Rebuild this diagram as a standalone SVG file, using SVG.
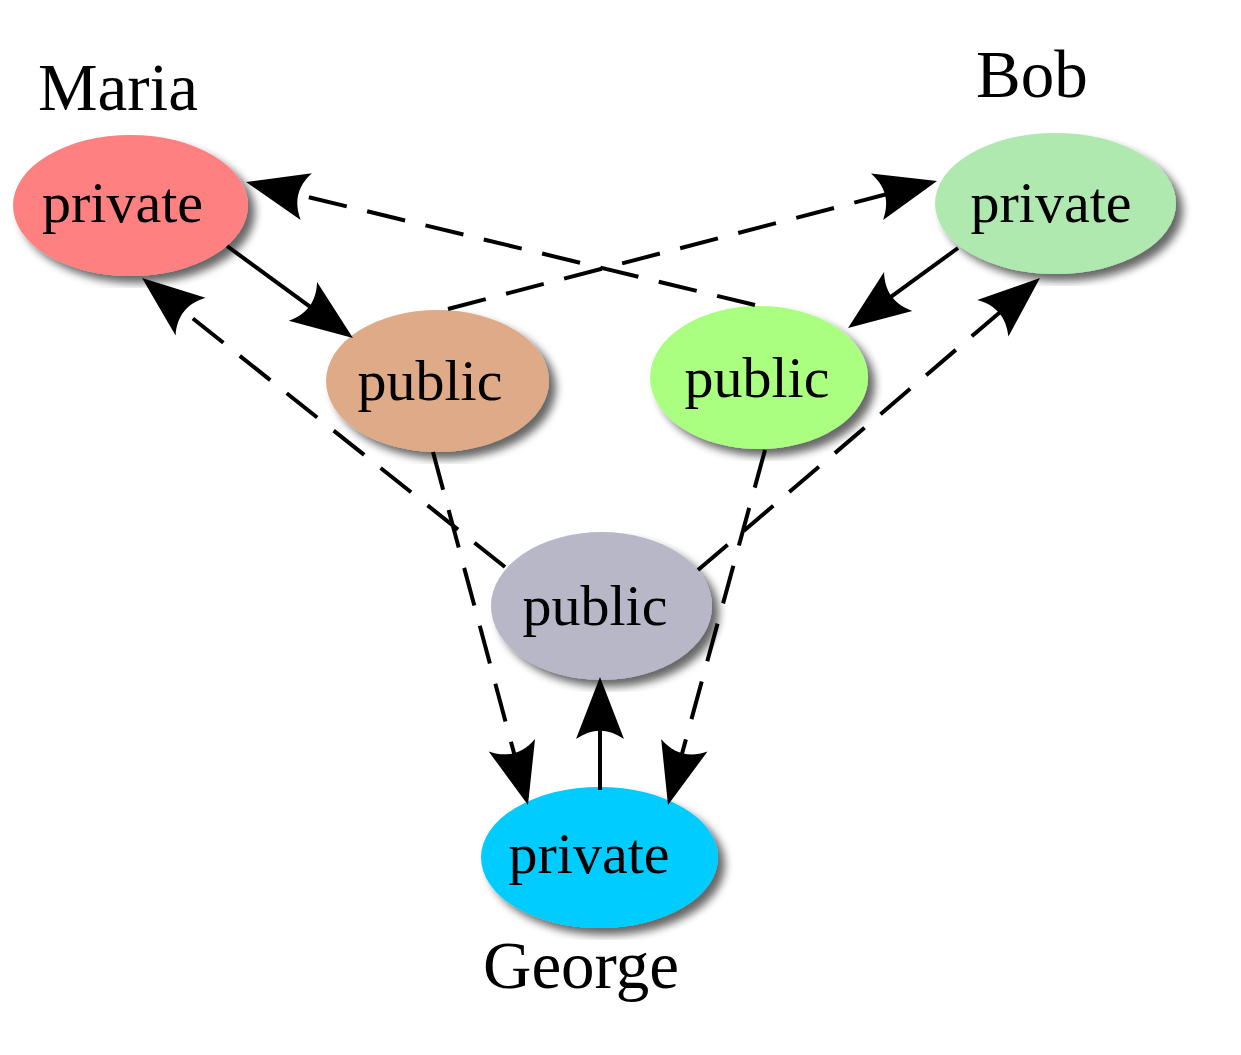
<svg xmlns="http://www.w3.org/2000/svg" width="1241" height="1055" viewBox="0 0 1241 1055">
<defs>
<filter id="sh" x="-4%" y="-4%" width="112%" height="112%">
<feGaussianBlur in="SourceAlpha" stdDeviation="4"/>
<feOffset dx="7" dy="7" result="b"/>
<feComponentTransfer><feFuncA type="linear" slope="0.6"/></feComponentTransfer>
<feMerge><feMergeNode/><feMergeNode in="SourceGraphic"/></feMerge>
</filter>
<marker id="ah" markerUnits="userSpaceOnUse" orient="auto" refX="0" refY="0" markerWidth="80" markerHeight="60" viewBox="-60 -30 80 60" overflow="visible">
<path d="M8,0 L-54,-24 C-43,-8 -43,8 -54,24 Z" fill="#000"/>
</marker>
</defs>
<style>
.lbl{font-family:"Liberation Serif","Times New Roman",serif;font-size:58px;fill:#000;text-anchor:middle}
.name{font-family:"Liberation Serif","Times New Roman",serif;font-size:67px;fill:#000}
.c{fill:none;stroke:#000;stroke-width:4;marker-end:url(#ah)}
.d{stroke-dasharray:39 21}
</style>
<rect width="1241" height="1055" fill="#fff"/>
<g id="maria-private"><ellipse cx="130.5" cy="205.5" rx="117.5" ry="70.5" fill="#ff8080" filter="url(#sh)"/><text class="lbl" x="122.5" y="222">private</text></g>
<g id="bob-private"><ellipse cx="1055.5" cy="203.5" rx="120.5" ry="70.5" fill="#afe9af" filter="url(#sh)"/><text class="lbl" x="1051" y="222">private</text></g>
<g id="maria-public"><ellipse cx="437.5" cy="381" rx="111.5" ry="71" fill="#deaa87" filter="url(#sh)"/><text class="lbl" x="430" y="400">public</text></g>
<g id="bob-public"><ellipse cx="759" cy="377.5" rx="109" ry="71.5" fill="#aaff80" filter="url(#sh)"/><text class="lbl" x="757" y="397">public</text></g>
<g id="george-public"><ellipse cx="601.5" cy="606" rx="110.5" ry="74" fill="#b7b7c8" filter="url(#sh)"/><text class="lbl" x="595" y="625">public</text></g>
<g id="george-private"><ellipse cx="599.5" cy="857.5" rx="118.5" ry="70.5" fill="#00ccff" filter="url(#sh)"/><text class="lbl" x="589" y="873">private</text></g>
<g id="labels">
<text class="name" x="38" y="110">Maria</text>
<text class="name" x="976" y="97">Bob</text>
<text class="name" x="483" y="988">George</text>
</g>
<g id="connectors">
<path class="c" d="M227,246 L346.5,333.3"/>
<path class="c" d="M958,248 L854.5,323.3"/>
<path class="c" d="M600,790 L600,685"/>
<path class="c d" d="M755,305 L253.8,183.9"/>
<path class="c d" d="M448,309 L929.3,183"/>
<path class="c d" d="M505,567 L148.3,283"/>
<path class="c d" d="M698,570 L1033.9,283.2"/>
<path class="c d" d="M433,452 L525.9,797.3"/>
<path class="c d" d="M765,450 L670.1,797.3"/>
</g>
</svg>
